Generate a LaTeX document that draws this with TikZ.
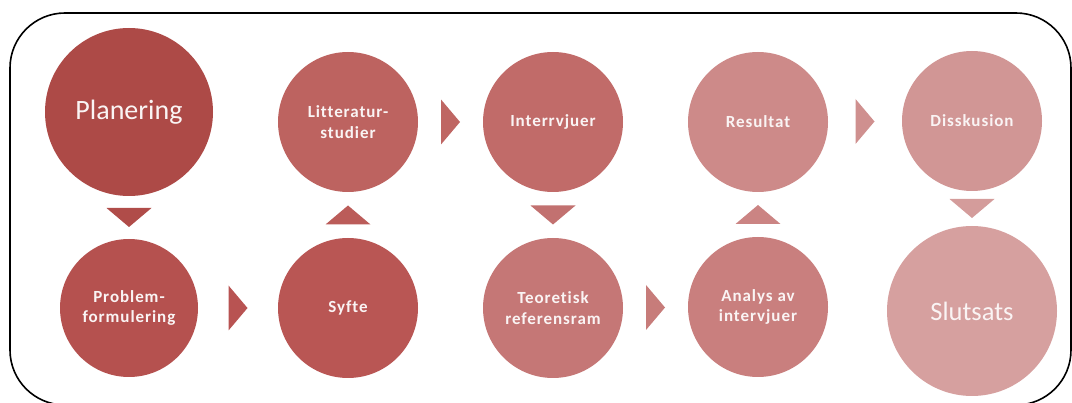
\documentclass[tikz,border=0pt]{standalone}
\usepackage{fontspec}
\setmainfont{Carlito}
\newfontfamily\stagefont[LetterSpace=5.5,Ligatures=NoCommon]{Carlito}
\usetikzlibrary{calc}
\definecolor{c1}{HTML}{AD4A47}
\definecolor{c2}{HTML}{B5514F}
\definecolor{c3}{HTML}{B95654}
\definecolor{c4}{HTML}{BD6360}
\definecolor{c5}{HTML}{C16B69}
\definecolor{c6}{HTML}{C57776}
\definecolor{c7}{HTML}{C97F7E}
\definecolor{c8}{HTML}{CD8A89}
\definecolor{c9}{HTML}{D19695}
\definecolor{c10}{HTML}{D6A09F}
\definecolor{t1}{HTML}{B04C49}
\definecolor{t2}{HTML}{B85352}
\definecolor{t3}{HTML}{BB5C59}
\definecolor{t4}{HTML}{BF6663}
\definecolor{t5}{HTML}{C27170}
\definecolor{t6}{HTML}{C77C7A}
\definecolor{t7}{HTML}{CB8483}
\definecolor{t8}{HTML}{CF908F}
\definecolor{t9}{HTML}{D49C9B}
\definecolor{txt}{HTML}{FAF4F4}
\tikzset{
  stage/.style={circle, inner sep=0pt, minimum size=140pt, text=txt, align=center,
    font=\stagefont\fontsize{17}{20.5}\selectfont\bfseries},
  bigstage/.style={stage, font=\fontsize{28}{32}\selectfont},
  tri/.pic={\fill[pic actions] (-9.5,-22.5) -- (9.5,0) -- (-9.5,22.5) -- cycle;},
  frame/.style={draw=black, line width=1.6pt, rounded corners=55pt}
}
\begin{document}
\begin{tikzpicture}[x=1pt,y=-1pt]
\useasboundingbox (0,0) rectangle (1072,403);
\clip (0,0) rectangle (1072,403);
\draw[frame] (10,13) rectangle (1071,405);
\node[bigstage, fill=c1, minimum size=168pt] (plan) at (129,112) {Planering};
\node[stage, fill=c2, minimum size=138pt] (prob) at (129,308) {Problem-\\formulering};
\node[stage, fill=c3] (syfte) at (348,308) {Syfte};
\node[stage, fill=c4] (litt) at (348,122) {Litteratur-\\studier};
\node[stage, fill=c5] (intv) at (553,122) {Interrvjuer};
\node[stage, fill=c6] (teor) at (553,308) {Teoretisk\\referensram};
\node[stage, fill=c7] (anal) at (758,307) {Analys av\\intervjuer};
\node[stage, fill=c8] (res) at (758,122) {Resultat};
\node[stage, fill=c9] (diss) at (972,121) {Disskusion};
\node[bigstage, fill=c10, minimum size=170pt, font=\fontsize{26.5}{30}\selectfont] (slut) at (972,311) {Slutsats};
\pic[rotate=-90, fill=t1] at ($(plan.south)!0.5!(prob.north)$) {tri};
\pic[fill=t2] at ($(prob.east)!0.5!(syfte.west)$) {tri};
\pic[rotate=90, fill=t3] at ($(syfte.north)!0.5!(litt.south)$) {tri};
\pic[fill=t4] at ($(litt.east)!0.5!(intv.west)$) {tri};
\pic[rotate=-90, fill=t5] at ($(intv.south)!0.5!(teor.north)$) {tri};
\pic[fill=t6] at ($(teor.east)!0.5!(anal.west)$) {tri};
\pic[rotate=90, fill=t7] at ($(anal.north)!0.5!(res.south)$) {tri};
\pic[fill=t8] at ($(res.east)!0.5!(diss.west)$) {tri};
\pic[rotate=-90, fill=t9] at ($(diss.south)!0.5!(slut.north)$) {tri};
\end{tikzpicture}
\end{document}
